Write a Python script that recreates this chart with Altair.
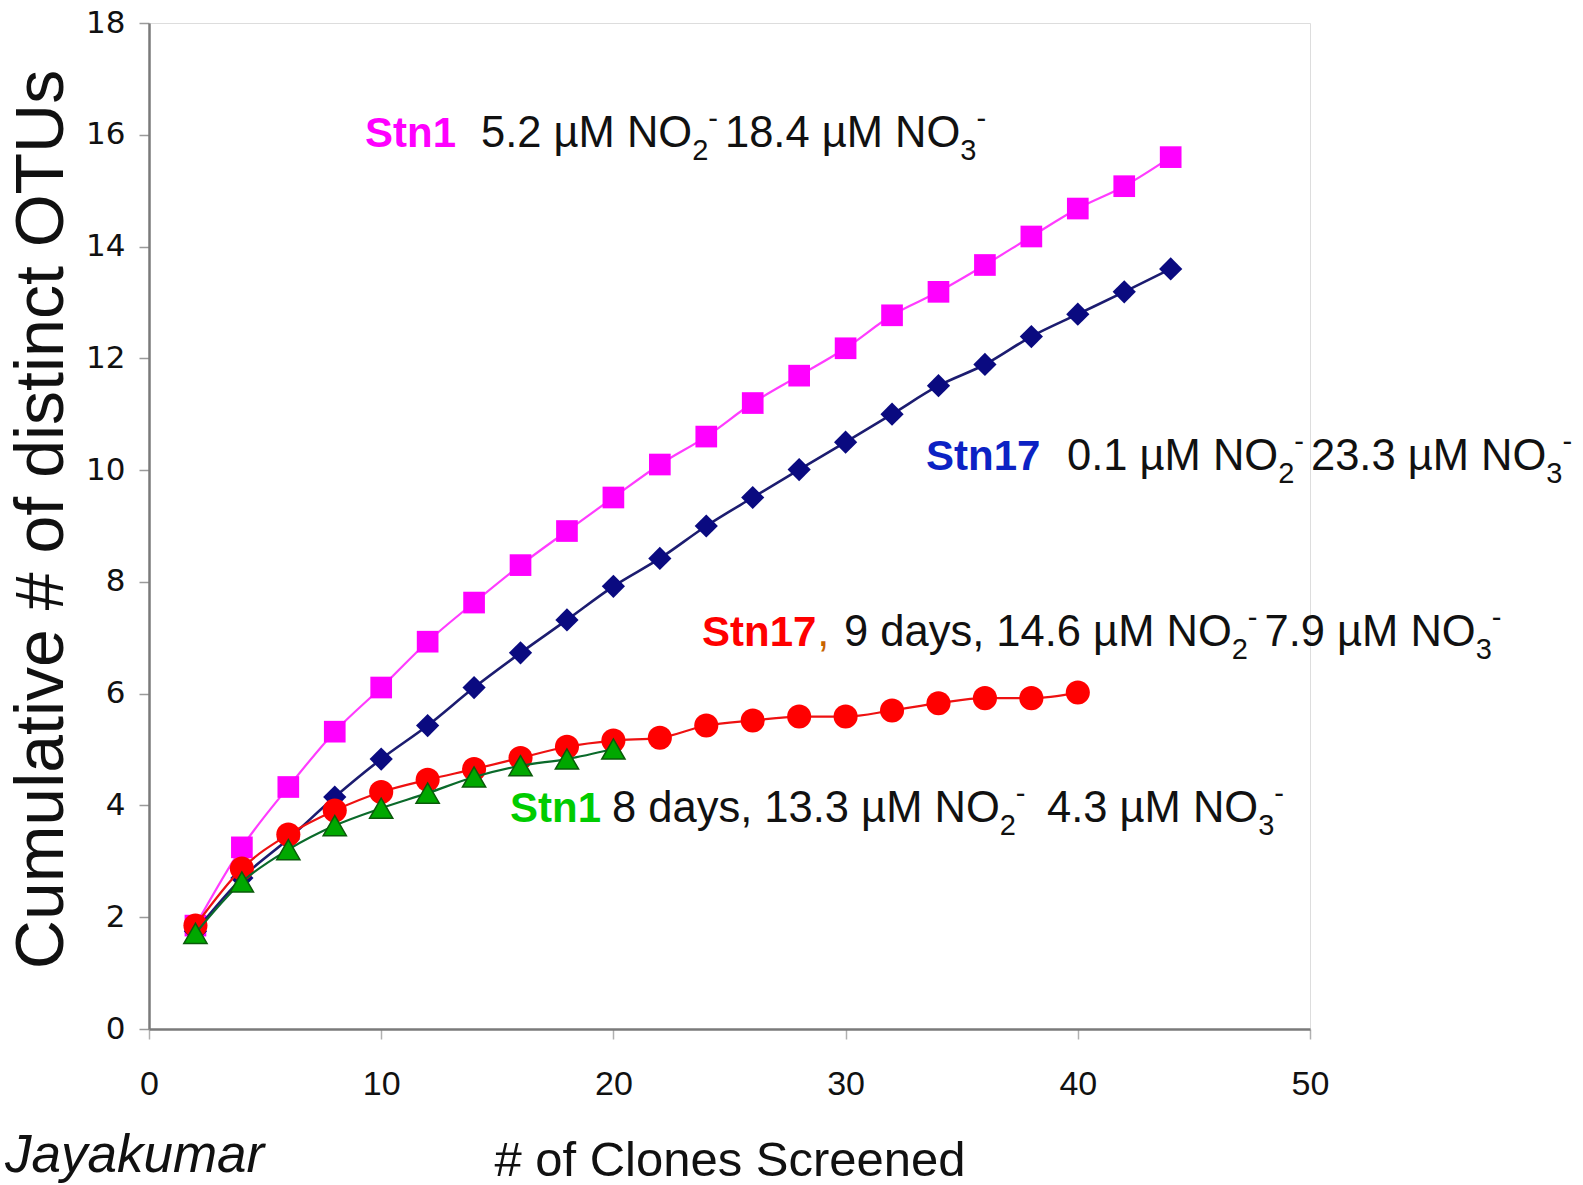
import altair as alt
import pandas as pd

# Clone counts (x) and cumulative OTU counts (y) for each library
clones_long = [2, 4, 6, 8, 10, 12, 14, 16, 18, 20, 22, 24, 26, 28, 30, 32, 34, 36, 38, 40, 42, 44]
clones_mid = [2, 4, 6, 8, 10, 12, 14, 16, 18, 20, 22, 24, 26, 28, 30, 32, 34, 36, 38, 40]
clones_short = [2, 4, 6, 8, 10, 12, 14, 16, 18, 20]

stn1 = [1.85, 3.25, 4.33, 5.32, 6.11, 6.93, 7.63, 8.30, 8.91, 9.51, 10.1,
        10.6, 11.2, 11.69, 12.18, 12.77, 13.19, 13.67, 14.18, 14.68, 15.08, 15.6]
stn17 = [1.75, 2.7, 3.4, 4.15, 4.83, 5.43, 6.11, 6.73, 7.32, 7.92, 8.42,
         9.0, 9.51, 10.01, 10.5, 11.0, 11.51, 11.89, 12.39, 12.79, 13.19, 13.6]
stn17_9d = [1.85, 2.87, 3.48, 3.91, 4.24, 4.46, 4.65, 4.85, 5.05, 5.16,
            5.21, 5.43, 5.52, 5.59, 5.59, 5.7, 5.83, 5.92, 5.92, 6.02]
stn1_8d = [1.71, 2.63, 3.21, 3.64, 3.95, 4.22, 4.51, 4.71, 4.83, 5.01]

x_ticks = [0, 10, 20, 30, 40, 50]
y_ticks = [0, 2, 4, 6, 8, 10, 12, 14, 16, 18]

SANS = "Liberation Sans, Arial, sans-serif"

PLOT_W, PLOT_H = 1161, 1006
X_MAX, Y_MAX = 50, 18
PX_PER_X = PLOT_W / X_MAX
PX_PER_Y = PLOT_H / Y_MAX

x_scale = alt.Scale(domain=[0, X_MAX], nice=False, zero=False)
y_scale = alt.Scale(domain=[0, Y_MAX], nice=False)

x_axis = alt.Axis(
    values=x_ticks, title="# of Clones Screened", grid=False,
    tickSize=10, tickColor="#b0b0b0", tickWidth=1.5,
    domainColor="#7a7a7a", domainWidth=2.5,
    labelFont=SANS, labelFontSize=34, labelColor="#111111", labelPadding=28,
    labelFlush=False,
    titleFont=SANS, titleFontSize=49, titleFontWeight="normal",
    titleColor="#111111", titlePadding=35,
)
y_axis = alt.Axis(
    values=y_ticks, title="Cumulative # of distinct OTUs", grid=False,
    tickSize=10, tickColor="#9a9a9a", tickWidth=1.5,
    domainColor="#7a7a7a", domainWidth=2.5,
    labelFont="DejaVu Sans", labelFontSize=31, labelColor="#111111", labelPadding=14,
    labelFlush=False,
    titleFont=SANS, titleFontSize=68, titleFontWeight="normal",
    titleColor="#111111", titlePadding=9, titleY=496,
)


def series(xs, ys, line_color, line_width, shape, fill, size, stroke=None, stroke_width=0):
    df = pd.DataFrame({"clones": xs, "otus": ys})
    enc = dict(
        x=alt.X("clones:Q", scale=x_scale, axis=x_axis),
        y=alt.Y("otus:Q", scale=y_scale, axis=y_axis),
    )
    line = alt.Chart(df).mark_line(
        color=line_color, strokeWidth=line_width, interpolate="monotone"
    ).encode(**enc)
    pt_kw = dict(shape=shape, fill=fill, filled=True, size=size, opacity=1)
    if stroke:
        pt_kw.update(stroke=stroke, strokeWidth=stroke_width)
    pts = alt.Chart(df).mark_point(**pt_kw).encode(**enc)
    return line + pts


layer_stn1 = series(clones_long, stn1, "#ff3cff", 2.2, "square", "#ff00ff", 470)
layer_stn17 = series(clones_long, stn17, "#1c1c70", 2.6, "diamond", "#0a0a80", 540)
layer_9d = series(clones_mid, stn17_9d, "#ee1111", 2.2, "circle", "#ff0000", 580)
layer_8d = series(clones_short, stn1_8d, "#0a6a2a", 2.2, "triangle-up", "#00a800", 540,
                  stroke="#0a5a0a", stroke_width=1.5)

# ---- station notes: text runs laid out with Arial-compatible advance widths ----
ADV = {" ": 278, ",": 278, "-": 333, ".": 278, "µ": 576, "M": 833, "N": 722,
       "O": 778, "d": 556, "a": 556, "y": 500, "s": 500}
ADV_BOLD = {"S": 667, "t": 333, "n": 611}
MAIN, SMALL, NAME = 43.5, 29, 42
BLACK = "#111111"
ION_GAP = 7


def run_width(text, size, bold=False):
    table = ADV_BOLD if bold else ADV
    return sum(table.get(ch, 556) for ch in text) * size / 1000


def note_line(y_px, name, name_color, name_x, chunks, comma=False):
    """chunks: list of (start_px or None, text, ion_digit)."""
    rows = []
    yc = (Y_MAX * PX_PER_Y - y_px) / PX_PER_Y
    dy_sub, dy_sup = 17 / PX_PER_Y, -15 / PX_PER_Y

    def put(x_px, y, text, color, size, bold):
        rows.append((x_px / PX_PER_X, y, text, color, size, bold))

    put(name_x, yc, name, name_color, NAME, True)
    cursor = name_x + run_width(name, NAME, True)
    if comma:
        put(cursor + 1, yc, ",", "#c86400", MAIN, False)
        cursor += run_width(",", MAIN)
    for start, text, digit in chunks:
        x = cursor if start is None else start
        put(x, yc, text, BLACK, MAIN, False)
        x += run_width(text, MAIN)
        put(x, yc - dy_sub, digit, BLACK, SMALL, False)
        x += run_width(digit, SMALL)
        put(x, yc - dy_sup, "-", BLACK, SMALL, False)
        cursor = x + run_width("-", SMALL) + ION_GAP
    return rows


notes = (
    note_line(111, "Stn1", "#ff00ff", 216,
              [(332, "5.2 µM NO", "2"), (None, "18.4 µM NO", "3")])
    + note_line(434, "Stn17", "#0c22c4", 777,
                [(918, "0.1 µM NO", "2"), (None, "23.3 µM NO", "3")])
    + note_line(610, "Stn17", "#ff0000", 553,
                [(695, "9 days, 14.6 µM NO", "2"), (None, "7.9 µM NO", "3")], comma=True)
    + note_line(786, "Stn1", "#00cc00", 361,
                [(463, "8 days, 13.3 µM NO", "2"), (898, "4.3 µM NO", "3")])
)
notes_df = pd.DataFrame(notes, columns=["x", "y", "text", "color", "size", "bold"])


def note_layer(df, weight):
    return alt.Chart(df).mark_text(
        align="left", baseline="middle", font=SANS, fontWeight=weight
    ).encode(
        x=alt.X("x:Q", scale=x_scale, axis=x_axis),
        y=alt.Y("y:Q", scale=y_scale, axis=y_axis),
        text="text:N",
        color=alt.Color("color:N", scale=None),
        size=alt.Size("size:Q", scale=None),
    )


notes_bold = note_layer(notes_df[notes_df["bold"]], "bold")
notes_plain = note_layer(notes_df[~notes_df["bold"]], "normal")

author = alt.Chart(pd.DataFrame({"x": [-6.2], "y": [-2.28], "text": ["Jayakumar"]})).mark_text(
    align="left", baseline="middle", font=SANS, fontStyle="italic",
    fontSize=53, color=BLACK
).encode(
    x=alt.X("x:Q", scale=x_scale, axis=x_axis),
    y=alt.Y("y:Q", scale=y_scale, axis=y_axis),
    text="text:N",
)

chart = alt.layer(
    layer_stn1, layer_stn17, layer_9d, layer_8d, notes_bold, notes_plain, author
).properties(
    width=PLOT_W, height=PLOT_H,
    autosize=alt.AutoSizeParams(type="none"),
    padding={"left": 149, "top": 23, "right": 273, "bottom": 156},
).configure_view(
    stroke="#7a7a7a", strokeWidth=2.5
).configure(background="white")

chart.save("out.html", embed_options={"renderer": "svg", "actions": False})
